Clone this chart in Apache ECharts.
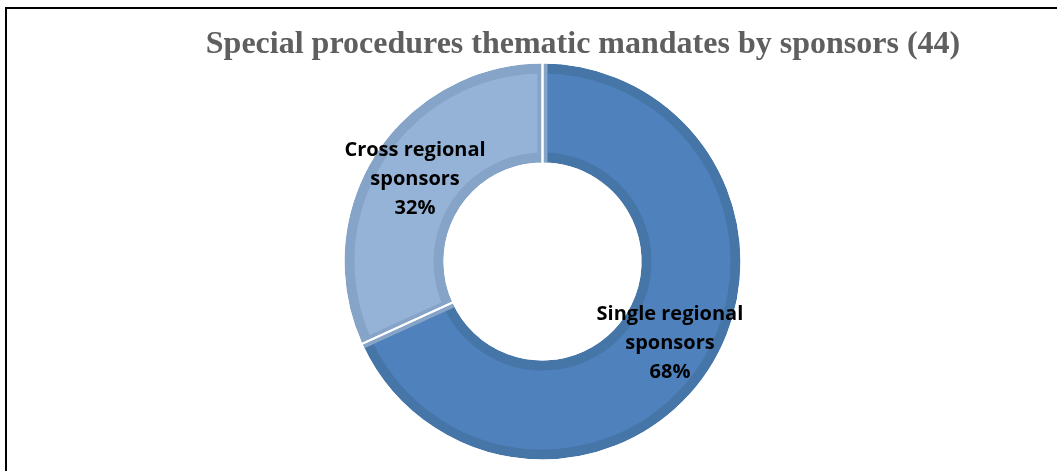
<!DOCTYPE html>
<html><head><meta charset="utf-8">
<script src="https://cdn.jsdelivr.net/npm/echarts@6/dist/echarts.min.js"></script>
<style>html,body{margin:0;padding:0;background:#fff}#c{width:1057px;height:471px}</style>
</head><body><div id="c"></div>
<script>
const titleText = 'Special procedures thematic mandates by sponsors (44)';
const categories = ['Single regional\nsponsors', 'Cross regional\nsponsors'];
const counts = [30, 14];
const fills = ['#4F81BD', '#95B3D7'];
const edges = ['#4676A8', '#86A4C7'];

const data = categories.map((n, i) => ({name: n, value: counts[i],
  itemStyle: {color: fills[i], borderColor: edges[i]}}));

const chart = echarts.init(document.getElementById('c'));
chart.setOption({
  animation: false,
  title: {text: titleText, left: 578, top: 24, textAlign: 'center',
    textStyle: {fontFamily: 'Liberation Serif', fontWeight: 'bold', fontSize: 32, color: '#5F5F5F'}},
  graphic: [
    {type: 'line', shape: {x1: 5, y1: 8, x2: 1057, y2: 8}, style: {stroke: '#000', lineWidth: 2}},
    {type: 'line', shape: {x1: 6, y1: 8, x2: 6, y2: 471}, style: {stroke: '#000', lineWidth: 2}}
  ],
  series: [
    {type: 'pie', center: [542.5, 261.5], radius: [104, 193], startAngle: 90, clockwise: true,
      itemStyle: {borderWidth: 10, borderJoin: 'miter'},
      label: {show: false}, labelLine: {show: false}, emphasis: {disabled: true},
      data: data, z: 1},
    {type: 'pie', center: [542.5, 261.5], radius: [98, 199], startAngle: 90, clockwise: true,
      silent: true, avoidLabelOverlap: false, emphasis: {disabled: true},
      label: {show: true, position: 'inside', fontFamily: 'Open Sans', fontWeight: 'bold', fontSize: 20,
        lineHeight: 29, color: '#000', align: 'center',
        formatter: p => p.name + '\n' + Math.round(p.percent) + '%'},
      labelLine: {show: false},
      itemStyle: {color: 'rgba(0,0,0,0)', borderColor: '#fff', borderWidth: 2},
      data: categories.map((n, i) => ({name: n, value: counts[i]})), z: 2}
  ]
});
</script></body></html>
